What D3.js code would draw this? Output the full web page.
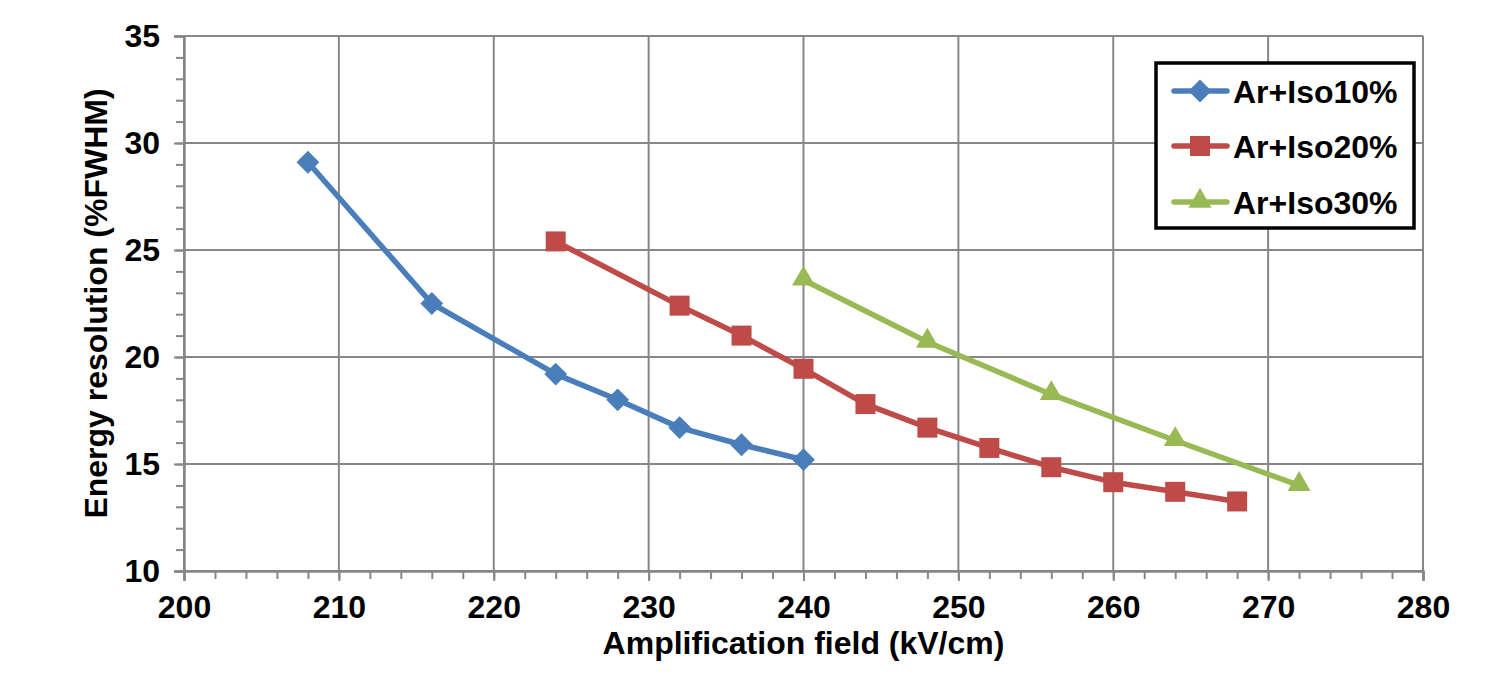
<!DOCTYPE html>
<html>
<head>
<meta charset="utf-8">
<script src="https://cdn.jsdelivr.net/npm/d3@7"></script>
<style>
  html, body { margin: 0; padding: 0; background: #fff; }
  svg text { font-family: "Liberation Sans", Arial, sans-serif; font-weight: bold; fill: #000; }
</style>
</head>
<body>
<svg id="chart" width="1490" height="678"></svg>
<script>
// Amplification field (kV/cm) for each gas mixture
const fieldIso10 = [208, 216, 224, 228, 232, 236, 240];
const fieldIso20 = [224, 232, 236, 240, 244, 248, 252, 256, 260, 264, 268];
const fieldIso30 = [240, 248, 256, 264, 272];

// Energy resolution (%FWHM)
const resIso10 = [29.1, 22.5, 19.2, 18.0, 16.7, 15.9, 15.2];
const resIso20 = [25.4, 22.4, 21.0, 19.45, 17.8, 16.7, 15.75, 14.85, 14.15, 13.7, 13.25];
const resIso30 = [23.6, 20.7, 18.25, 16.1, 14.0];

const seriesNames = ["Ar+Iso10%", "Ar+Iso20%", "Ar+Iso30%"];
const xTicks = [200, 210, 220, 230, 240, 250, 260, 270, 280];
const yTicks = [10, 15, 20, 25, 30, 35];

const series = [
  { name: seriesNames[0], x: fieldIso10, y: resIso10, color: "#4A7EBB", shape: "diamond" },
  { name: seriesNames[1], x: fieldIso20, y: resIso20, color: "#BE4B48", shape: "square" },
  { name: seriesNames[2], x: fieldIso30, y: resIso30, color: "#98B954", shape: "triangle" }
];

const svg = d3.select("#chart");
const plot = { left: 184, right: 1423, top: 36, bottom: 571 };

const x = d3.scaleLinear().domain([200, 280]).range([plot.left, plot.right]);
const y = d3.scaleLinear().domain([10, 35]).range([plot.bottom, plot.top]);

const gridColor = "#878787";

// grid lines
const grid = svg.append("g");
grid.selectAll("line.v").data(xTicks).join("line")
  .attr("x1", d => x(d)).attr("x2", d => x(d))
  .attr("y1", plot.top).attr("y2", plot.bottom)
  .attr("stroke", gridColor).attr("stroke-width", 2);
grid.selectAll("line.h").data(yTicks).join("line")
  .attr("x1", plot.left).attr("x2", plot.right)
  .attr("y1", d => y(d)).attr("y2", d => y(d))
  .attr("stroke", gridColor).attr("stroke-width", 2);

// x axis with minor ticks every 2 kV/cm
const xMinor = d3.range(200, 280.1, 2);
const xAxisG = svg.append("g").attr("transform", `translate(0,${plot.bottom})`);
xAxisG.append("g")
  .call(d3.axisBottom(x).tickValues(xMinor).tickSize(8).tickFormat(""))
  .call(g => g.select(".domain").remove())
  .call(g => g.selectAll("line").attr("stroke", gridColor).attr("stroke-width", 2));
xAxisG.append("g")
  .call(d3.axisBottom(x).tickValues(xTicks).tickSize(10).tickPadding(14).tickFormat(d3.format("d")))
  .call(g => g.select(".domain").attr("stroke", gridColor).attr("stroke-width", 2.5))
  .call(g => g.selectAll("line").attr("stroke", gridColor).attr("stroke-width", 2))
  .call(g => g.selectAll("text").style("font-size", "32px").attr("fill", "#000"));

// y axis with minor ticks every 1 %
const yMinor = d3.range(10, 35.1, 1);
const yAxisG = svg.append("g").attr("transform", `translate(${plot.left},0)`);
yAxisG.append("g")
  .call(d3.axisLeft(y).tickValues(yMinor).tickSize(8).tickFormat(""))
  .call(g => g.select(".domain").remove())
  .call(g => g.selectAll("line").attr("stroke", gridColor).attr("stroke-width", 2));
yAxisG.append("g")
  .call(d3.axisLeft(y).tickValues(yTicks).tickSize(10).tickPadding(14).tickFormat(d3.format("d")))
  .call(g => g.select(".domain").attr("stroke", gridColor).attr("stroke-width", 2.5))
  .call(g => g.selectAll("line").attr("stroke", gridColor).attr("stroke-width", 2))
  .call(g => g.selectAll("text").style("font-size", "32px").attr("fill", "#000"));

// axis titles
svg.append("text")
  .attr("x", (plot.left + plot.right) / 2).attr("y", 654)
  .attr("text-anchor", "middle").style("font-size", "32px")
  .text("Amplification field (kV/cm)");
svg.append("text")
  .attr("transform", `translate(107,${(plot.top + plot.bottom) / 2}) rotate(-90)`)
  .attr("text-anchor", "middle").style("font-size", "32px")
  .text("Energy resolution (%FWHM)");

// marker symbols
const symbolFor = {
  diamond: d3.symbol().type(d3.symbolSquare).size(260),
  square: d3.symbol().type(d3.symbolSquare).size(400),
  triangle: d3.symbol().type(d3.symbolTriangle).size(230)
};
function drawMarker(g, s, cx, cy) {
  const p = g.append("path")
    .attr("d", symbolFor[s.shape]())
    .attr("fill", s.color);
  if (s.shape === "diamond") p.attr("transform", `translate(${cx},${cy}) rotate(45)`);
  else if (s.shape === "triangle") p.attr("transform", `translate(${cx},${cy - 1})`);
  else p.attr("transform", `translate(${cx},${cy})`);
}

// series lines and markers
const line = d3.line().x(d => x(d[0])).y(d => y(d[1]));
series.forEach(s => {
  const pts = s.x.map((v, i) => [v, s.y[i]]);
  const g = svg.append("g");
  g.append("path").datum(pts).attr("d", line)
    .attr("fill", "none").attr("stroke", s.color)
    .attr("stroke-width", 5.5).attr("stroke-linejoin", "round").attr("stroke-linecap", "round");
  pts.forEach(p => drawMarker(g, s, x(p[0]), y(p[1])));
});

// legend
const legend = svg.append("g");
legend.append("rect")
  .attr("x", 1156).attr("y", 63).attr("width", 258).attr("height", 165)
  .attr("fill", "#fff").attr("stroke", "#000").attr("stroke-width", 3.5);
const rowY = [91, 146, 202];
series.forEach((s, i) => {
  const g = legend.append("g");
  g.append("line")
    .attr("x1", 1174).attr("x2", 1227).attr("y1", rowY[i]).attr("y2", rowY[i])
    .attr("stroke", s.color).attr("stroke-width", 5.5).attr("stroke-linecap", "round");
  drawMarker(g, s, 1200, rowY[i]);
  g.append("text")
    .attr("x", 1233).attr("y", rowY[i]).attr("dy", "0.36em")
    .style("font-size", "32px")
    .text(s.name);
});
</script>
</body>
</html>
